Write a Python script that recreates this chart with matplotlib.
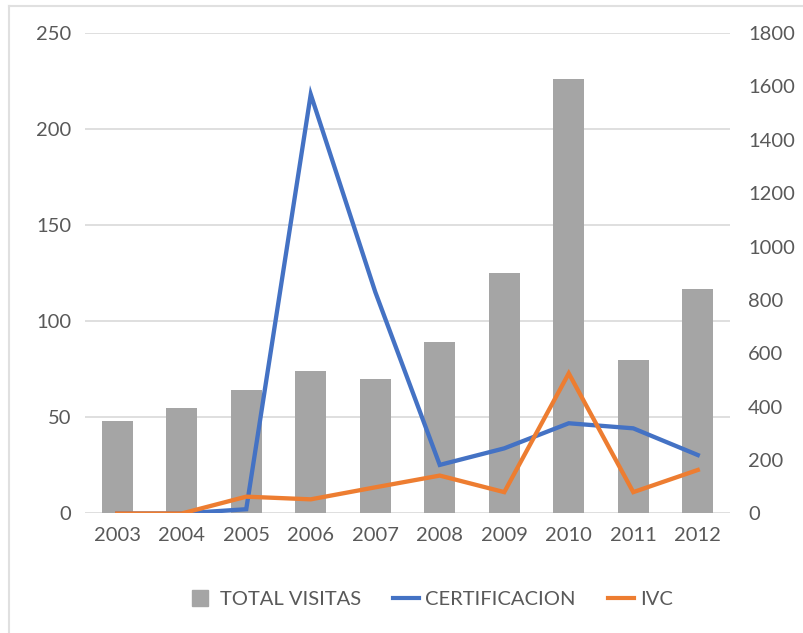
import matplotlib
matplotlib.use('Agg')
from matplotlib import pyplot as plt
from matplotlib.lines import Line2D
import numpy as np

years = ['2003','2004','2005','2006','2007','2008','2009','2010','2011','2012']
total_visitas = [48, 55, 64, 74, 70, 89, 125, 226, 80, 117]
certificacion = [0, 0, 16, 1570, 830, 182, 244, 338, 319, 219]
ivc = [0, 0, 63, 53, 98, 142, 80, 525, 80, 163]

gray = '#A5A5A5'
blue = '#4472C4'
orange = '#ED7D31'
txt = '#595959'

plt.rcParams['font.family'] = ['Lato', 'DejaVu Sans']

fig = plt.figure(figsize=(8.04, 6.33), dpi=100)
ax = fig.add_axes([0.1057, 0.1888, 0.8023, 0.7591])
ax2 = ax.twinx()

x = np.arange(len(years))
ax.bar(x, total_visitas, width=0.48, color=gray, zorder=2)
ax2.plot(x, certificacion, color=blue, lw=3.1, solid_joinstyle='miter', zorder=3)
ax2.plot(x, ivc, color=orange, lw=3.1, solid_joinstyle='miter', zorder=3)

ax.set_xlim(-0.5, len(years) - 0.5)
ax.set_ylim(0, 250)
ax.set_yticks(range(0, 251, 50))
ax2.set_ylim(0, 1800)
ax2.set_yticks(range(0, 1801, 200))
ax.set_xticks(x)
ax.set_xticklabels(years)

ax.grid(axis='y', color='#D9D9D9', lw=1.2, zorder=0)
ax.set_axisbelow(True)
for a in (ax, ax2):
    for s in a.spines.values():
        s.set_visible(False)
    a.tick_params(length=0, labelsize=14.5, colors=txt)
ax.tick_params(axis='y', pad=10)
ax2.tick_params(axis='y', pad=13)
ax.tick_params(axis='x', pad=10)

handles = [Line2D([], [], ls='none', marker='s', markersize=11, color=gray, label='TOTAL VISITAS'),
           Line2D([], [], color=blue, lw=3, label='CERTIFICACION'),
           Line2D([], [], color=orange, lw=3, label='IVC')]
fig.legend(handles=handles, loc='center', bbox_to_anchor=(0.535, 0.053), ncol=3,
           frameon=False, fontsize=14.5, labelcolor=txt, handlelength=1.3,
           columnspacing=1.6, handletextpad=0.3)

# thin chart border on the left and top edges
fig.add_artist(Line2D([0.011, 0.011], [0, 0.99], color='#E0E0E0', lw=1.5))
fig.add_artist(Line2D([0.011, 1.0], [0.99, 0.99], color='#E0E0E0', lw=1.5))

fig.savefig('out.png', dpi=100)
